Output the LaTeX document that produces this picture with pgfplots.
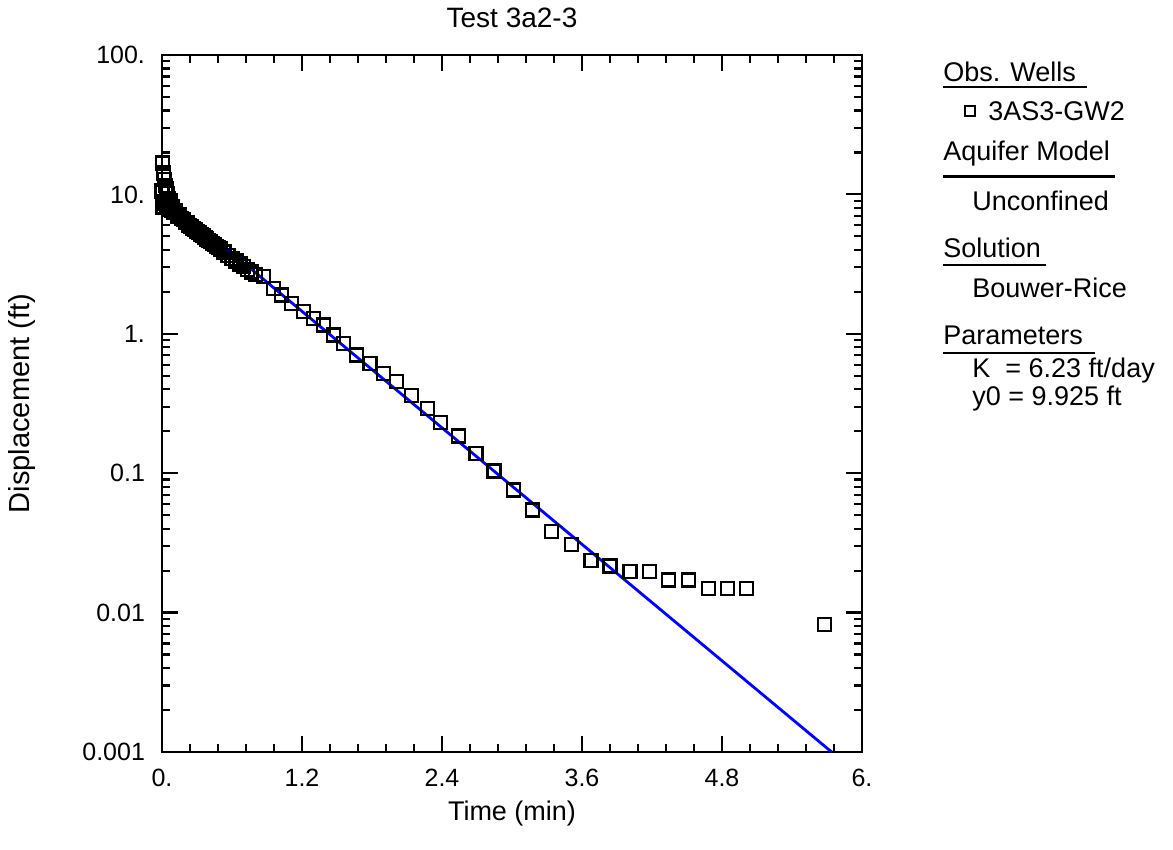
\documentclass[border=0pt]{standalone}
\usepackage{fontspec}
\setmainfont{Liberation Sans}
\usepackage{pgfplots}
\pgfplotsset{compat=1.18}
\usepackage{pgfplotstable}

\pgfplotstableread{
t y
0.000 10.6
0.004 16.8
0.008 8.1
0.013 14.2
0.017 8.6
0.021 12.8
0.025 8.9
0.029 11.6
0.033 8.7
0.038 10.9
0.042 8.5
0.046 10.1
0.050 8.3
0.058 9.3
0.067 8.0
0.075 8.7
0.083 7.7
0.092 8.1
0.100 7.4
0.117 7.6
0.133 7.0
0.150 7.1
0.167 6.7
0.183 6.6
0.200 6.3
0.217 6.3
0.233 6.0
0.250 5.9
0.267 5.7
0.283 5.6
0.300 5.4
0.317 5.35
0.333 5.15
0.350 5.05
0.367 4.9
0.383 4.8
0.400 4.65
0.417 4.6
0.433 4.45
0.450 4.35
0.467 4.25
0.483 4.15
0.500 4.05
0.533 3.85
0.567 3.65
0.600 3.48
0.633 3.32
0.667 3.17
0.700 3.03
0.733 2.90
0.767 2.77
0.800 2.66
0.868 2.57
0.954 2.12
1.026 1.90
1.112 1.65
1.211 1.44
1.297 1.29
1.383 1.156
1.468 0.98
1.554 0.855
1.669 0.705
1.783 0.614
1.897 0.521
2.012 0.453
2.140 0.360
2.274 0.292
2.389 0.232
2.540 0.185
2.691 0.139
2.846 0.104
3.011 0.0758
3.174 0.0545
3.340 0.0380
3.512 0.0309
3.677 0.0236
3.840 0.0216
4.011 0.0197
4.177 0.0197
4.343 0.0171
4.511 0.0171
4.683 0.0149
4.846 0.0149
5.011 0.0149
5.677 0.00824
}\obsdata

\pgfplotstableread{
t y
0.00 9.925
5.74 0.001
}\fitdata

\begin{document}
\begin{tikzpicture}
\begin{axis}[
  name=ax,
  at={(0,0)}, anchor=south west,
  scale only axis,
  width=350pt, height=348.5pt,
  xmin=0, xmax=6,
  ymode=log, ymin=0.001, ymax=100,
  axis line style={line width=1.2pt},
  xtick={0,1.2,2.4,3.6,4.8,6},
  xticklabels={0.,1.2,2.4,3.6,4.8,6.},
  minor x tick num=4,
  ytick={0.001,0.01,0.1,1,10,100},
  yticklabels={0.001,0.01,0.1,1.,10.,100.},
  minor ytick={0.002,0.003,0.004,0.005,0.006,0.007,0.008,0.009,
               0.02,0.03,0.04,0.05,0.06,0.07,0.08,0.09,
               0.2,0.3,0.4,0.5,0.6,0.7,0.8,0.9,
               2,3,4,5,6,7,8,9,
               20,30,40,50,60,70,80,90},
  tick align=inside,
  major tick length=8pt,
  minor tick length=4pt,
  every tick/.style={black, line width=1.1pt},
  tick label style={font=\fontsize{12.5}{14}\selectfont},
  xticklabel style={yshift=-5pt},
  yticklabel style={xshift=-5pt},
  /pgf/number format/assume math mode=true,
  clip=false,
]
\addplot[only marks, mark=square, mark size=3.25pt,
  mark options={line width=1.2pt, draw=black, fill=none}] table[x=t,y=y] {\obsdata};
\addplot[blue, line width=1.4pt, no marks] table[x=t,y=y] {\fitdata};
\end{axis}

% title and axis labels
\node[font=\fontsize{14}{16}\selectfont] at (175pt,367pt) {Test 3a2-3};
\node[font=\fontsize{13.5}{16}\selectfont] at (175pt,-31pt) {Time (min)};
\node[font=\fontsize{14.5}{16}\selectfont, rotate=90] at (-70pt,174.25pt) {Displacement (ft)};

% legend panel
\begin{scope}[font=\fontsize{13.5}{16}\selectfont]
\node[anchor=west, inner sep=0pt] at (390.5pt,340.2pt) {Obs. Wells};
\draw[line width=1.2pt] (390.5pt,332.5pt) -- (462.5pt,332.5pt);
\draw[line width=1.4pt] (401.5pt,318pt) rectangle (406.5pt,323pt);
\node[anchor=west, inner sep=0pt] at (413pt,320.2pt) {3AS3-GW2};

\node[anchor=west, inner sep=0pt] at (390.5pt,299pt) {Aquifer Model};
\draw[line width=1.2pt] (390.5pt,287.7pt) -- (476.5pt,287.7pt);
\node[anchor=west, inner sep=0pt] at (405pt,275.5pt) {Unconfined};

\node[anchor=west, inner sep=0pt] at (390.5pt,252pt) {Solution};
\draw[line width=1.2pt] (390.5pt,243.5pt) -- (442pt,243.5pt);
\node[anchor=west, inner sep=0pt] at (405pt,232pt) {Bouwer-Rice};

\node[anchor=west, inner sep=0pt] at (390.5pt,208.5pt) {Parameters};
\draw[line width=1.2pt] (390.5pt,199.5pt) -- (466.5pt,199.5pt);
\node[anchor=west, inner sep=0pt] at (405pt,190.5pt) {K\ \ = 6.23 ft/day};
\node[anchor=west, inner sep=0pt] at (405pt,176.5pt) {y0 = 9.925 ft};
\end{scope}

\pgfresetboundingbox
\path[use as bounding box] (-81pt,-49pt) rectangle (505.5pt,376pt);
\end{tikzpicture}
\end{document}
